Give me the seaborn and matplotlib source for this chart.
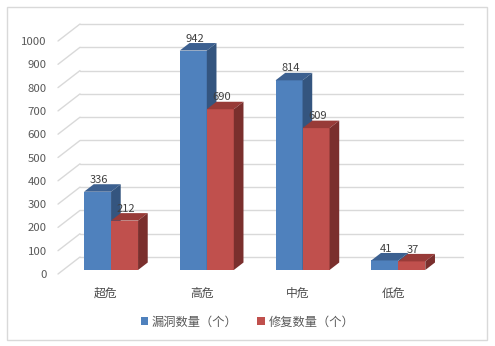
import matplotlib
matplotlib.use("Agg")
import matplotlib.pyplot as plt
from matplotlib.transforms import Affine2D
from matplotlib.patches import Polygon, Rectangle, Patch
import seaborn as sns
import pandas as pd

categories = ['超危', '高危', '中危', '低危']
series_names = ['漏洞数量（个）', '修复数量（个）']
vuln_counts = [336, 942, 814, 41]
fixed_counts = [212, 690, 609, 37]
y_ticks = list(range(0, 1001, 100))

front_colors = ['#4F81BD', '#C0504D']
top_colors = ['#3C6090', '#983B38']
side_colors = ['#34557F', '#7A2F2D']
grid_color = '#D9D9D9'
text_color = '#595959'

sns.set_theme(style='white')
plt.rcParams['font.family'] = ['Noto Sans CJK SC', 'DejaVu Sans']

df = pd.DataFrame({
    'cat': categories * 2,
    'series': [series_names[0]] * len(categories) + [series_names[1]] * len(categories),
    'value': vuln_counts + fixed_counts,
})

W, H = 495, 346
fig = plt.figure(figsize=(W / 100, H / 100), dpi=100)
ax = fig.add_axes([58 / W, (H - 274) / H, 405 / W, 250 / H])

sns.barplot(data=df, x='cat', y='value', hue='series', palette=front_colors,
            width=0.564, gap=0, dodge=True, saturation=1, errorbar=None,
            legend=False, ax=ax)

# 3D geometry (data units)
Dx, Dy = 0.2298, 73.0          # full wall depth
f0 = 0.235                      # bar front depth fraction
fd = 0.44                       # bar depth fraction
dx0, dy0 = f0 * Dx, f0 * Dy
ddx, ddy = fd * Dx, fd * Dy

# back-wall gridlines and diagonal connectors
for v in y_ticks:
    ax.plot([-0.5 + Dx, 3.5 + Dx], [v + Dy, v + Dy], color=grid_color, lw=1, zorder=0, clip_on=False)
    ax.plot([-0.5, -0.5 + Dx], [v, v + Dy], color=grid_color, lw=1, zorder=0, clip_on=False)

trans = Affine2D().translate(dx0, dy0) + ax.transData
n = len(categories)
for k, p in enumerate(ax.patches):
    j = k // n
    i = k % n
    z = 3 + i * 2 + j
    x0, w, h = p.get_x(), p.get_width(), p.get_height()
    p.set_transform(trans)
    p.set_zorder(z)
    p.set_linewidth(0)
    p.set_clip_on(False)
    top = Polygon([(x0, h), (x0 + w, h), (x0 + w + ddx, h + ddy), (x0 + ddx, h + ddy)],
                  closed=True, facecolor=top_colors[j], edgecolor='none', transform=trans,
                  zorder=z, clip_on=False)
    side = Polygon([(x0 + w, 0), (x0 + w + ddx, ddy), (x0 + w + ddx, h + ddy), (x0 + w, h)],
                   closed=True, facecolor=side_colors[j], edgecolor='none', transform=trans,
                   zorder=z, clip_on=False)
    ax.add_patch(top)
    ax.add_patch(side)
    ax.text(x0 + w / 2 + ddx * 0.15, h + ddy + 6, f'{int(h)}', transform=trans,
            ha='center', va='baseline', fontsize=8, color='#404040', zorder=20, clip_on=False)

ax.set_xlim(-0.5, 3.5 + Dx)
ax.set_ylim(0, 1000 + Dy)
ax.set_yticks(y_ticks)
ax.set_yticklabels([str(v) for v in y_ticks])
ax.set_xticks(range(n))
ax.set_xticklabels(categories)
ax.tick_params(axis='y', length=0, pad=8, labelsize=8.2, labelcolor=text_color)
ax.tick_params(axis='x', length=0, pad=9, labelsize=8.5, labelcolor='#4A4A4A')
ax.set_xlabel('')
ax.set_ylabel('')
for s in ax.spines.values():
    s.set_visible(False)
ax.patch.set_alpha(0)

handles = [Patch(facecolor=c, edgecolor='none') for c in front_colors]
fig.legend(handles, series_names, loc='center', bbox_to_anchor=(0.5, 1 - 322 / H),
           ncol=2, frameon=False, handlelength=0.6, handleheight=0.6, handletextpad=0.3,
           columnspacing=1.6, fontsize=8.8, labelcolor=text_color)

fig.add_artist(Rectangle((7 / W, (H - 340) / H), (487 - 7) / W, (340 - 7) / H,
                         transform=fig.transFigure, fill=False, edgecolor=grid_color, lw=1))

fig.savefig('out.png', dpi=100, facecolor='white')
